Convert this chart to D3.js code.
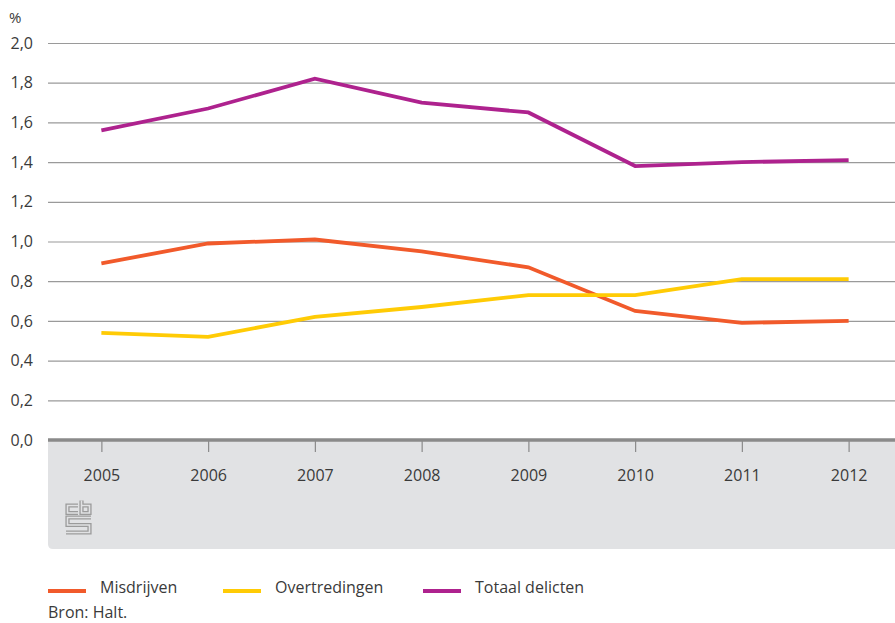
<!DOCTYPE html>
<html>
<head>
<meta charset="utf-8">
<script src="https://cdn.jsdelivr.net/npm/d3@7"></script>
<style>
  body { margin: 0; background: #fff; }
  text { font-family: "Open Sans", sans-serif; fill: #3a3a3a; }
</style>
</head>
<body>
<div id="chart"></div>
<script>
// data
var years = ["2005", "2006", "2007", "2008", "2009", "2010", "2011", "2012"];
var misdrijven = [0.89, 0.99, 1.01, 0.95, 0.87, 0.65, 0.59, 0.60];
var overtredingen = [0.54, 0.52, 0.62, 0.67, 0.73, 0.73, 0.81, 0.81];
var totaal = [1.56, 1.67, 1.82, 1.70, 1.65, 1.38, 1.40, 1.41];
var yTicks = [0, 0.2, 0.4, 0.6, 0.8, 1.0, 1.2, 1.4, 1.6, 1.8, 2.0];

var series = [
  { name: "Misdrijven", values: misdrijven, color: "#f15a2b" },
  { name: "Overtredingen", values: overtredingen, color: "#ffcb05" },
  { name: "Totaal delicten", values: totaal, color: "#ae228e" }
];

var svgWidth = 895;
var svgHeight = 623;
var plotLeft = 48, plotRight = 895, plotTop = 43, plotBottom = 440;

var svg = d3.select("#chart")
  .append("svg")
  .attr("width", svgWidth)
  .attr("height", svgHeight);

var x = d3.scalePoint()
  .domain(years)
  .range([plotLeft, 902])
  .padding(0.5);

var y = d3.scaleLinear()
  .domain([0, 2])
  .range([plotBottom, plotTop]);

var nl = d3.formatLocale({ decimal: ",", thousands: ".", grouping: [3], currency: ["€", ""] });

// grey panel under the axis
svg.append("path")
  .attr("d", `M${plotLeft},${plotBottom} H${plotRight} V549 H${plotLeft + 5} Q${plotLeft},549 ${plotLeft},544 Z`)
  .attr("fill", "#e1e2e4");

// y axis with gridlines
var yAxis = svg.append("g")
  .attr("transform", `translate(${plotLeft},0)`)
  .call(d3.axisLeft(y).tickValues(yTicks).tickSize(-(plotRight - plotLeft)).tickPadding(15).tickFormat(nl.format(".1f")));
yAxis.select(".domain").remove();
yAxis.selectAll(".tick line")
  .attr("stroke", "#9a9a9a")
  .attr("stroke-width", 1.2)
  .filter(d => d === 0).remove();
yAxis.selectAll("text")
  .style("font-size", "16px")
  .attr("fill", "#3a3a3a");

svg.append("text")
  .attr("x", 9)
  .attr("y", 23)
  .style("font-size", "15px")
  .text("%");

// x axis
var xAxis = svg.append("g")
  .attr("transform", `translate(0,${plotBottom + 1})`)
  .call(d3.axisBottom(x).tickSizeInner(11).tickSizeOuter(0).tickPadding(18));
xAxis.select(".domain").remove();
xAxis.selectAll(".tick line").attr("stroke", "#8a8a8a").attr("stroke-width", 1.2);
xAxis.selectAll("text")
  .style("font-size", "16px")
  .attr("fill", "#3a3a3a");

svg.append("line")
  .attr("x1", plotLeft).attr("x2", plotRight)
  .attr("y1", y(0)).attr("y2", y(0))
  .attr("stroke", "#8a8a8a")
  .attr("stroke-width", 3.5);

// cbs logo
var logo = svg.append("g").attr("fill", "none");
var logoPath = "M78,505.5 H67.5 V513 H78 M81.5,500.5 V513 H89.5 V505.5 H81.5 M91,517.5 H67.5 V525 H89.5 V532.5 H66";
logo.append("path").attr("d", logoPath).attr("stroke", "#9b9b9b").attr("stroke-width", 4.2);
logo.append("path").attr("d", logoPath).attr("stroke", "#e1e2e4").attr("stroke-width", 1.6);

// lines
var line = d3.line()
  .x((d, i) => x(years[i]))
  .y(d => y(d));

svg.selectAll(".series")
  .data(series)
  .enter()
  .append("path")
  .attr("class", "series")
  .attr("d", d => line(d.values))
  .attr("fill", "none")
  .attr("stroke", d => d.color)
  .attr("stroke-width", 3.8);

// legend
var legendX = [48, 223, 423];
var legend = svg.selectAll(".legend")
  .data(series)
  .enter()
  .append("g")
  .attr("class", "legend")
  .attr("transform", (d, i) => `translate(${legendX[i]},591)`);

legend.append("line")
  .attr("x1", 0).attr("x2", 38)
  .attr("stroke", d => d.color)
  .attr("stroke-width", 4);

legend.append("text")
  .attr("x", 52)
  .attr("y", 2)
  .style("font-size", "16px")
  .text(d => d.name);

svg.append("text")
  .attr("x", 48)
  .attr("y", 618)
  .style("font-size", "16px")
  .text("Bron: Halt.");
</script>
</body>
</html>
